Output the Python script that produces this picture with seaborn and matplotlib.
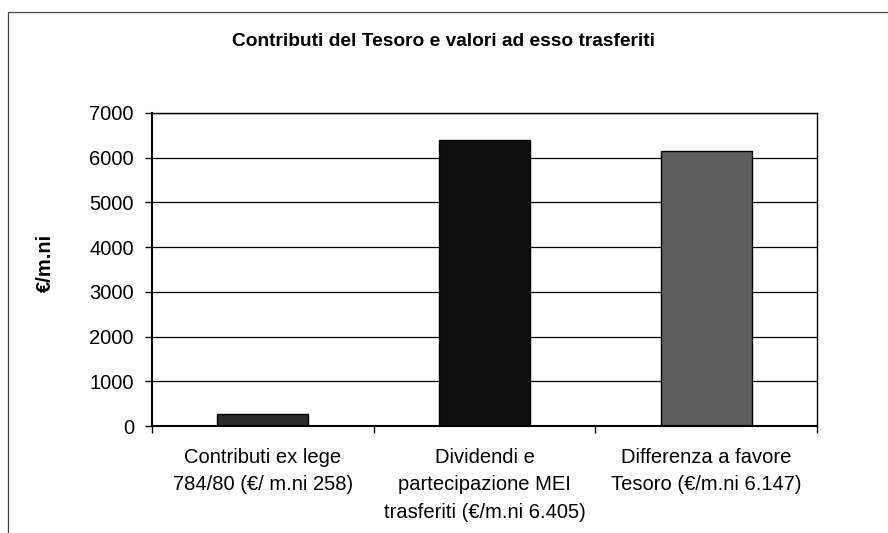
import matplotlib
matplotlib.use("Agg")
import matplotlib.pyplot as plt
import matplotlib.patches as mpatches
import seaborn as sns
import pandas as pd

# dati del grafico
categorie = [
    "Contributi ex lege\n784/80 (€/ m.ni 258)",
    "Dividendi e\npartecipazione MEI\ntrasferiti (€/m.ni 6.405)",
    "Differenza a favore\nTesoro (€/m.ni 6.147)",
]
valori = [258, 6405, 6147]
colori = ["#2b2b2b", "#0f0f0f", "#5e5e5e"]

df = pd.DataFrame({"categoria": categorie, "valore": valori})

sns.set_theme(style="white")
plt.rcParams["font.family"] = ["Liberation Sans", "DejaVu Sans"]
plt.rcParams["text.color"] = "black"
plt.rcParams["xtick.color"] = "black"
plt.rcParams["ytick.color"] = "black"
plt.rcParams["axes.labelcolor"] = "black"

fig = plt.figure(figsize=(8.88, 5.33), dpi=100)
# area del grafico: x 152-817, y 113-426 (pixel)
ax = fig.add_axes([152 / 888, 1 - 426 / 533, (817 - 152) / 888, (426 - 113) / 533])

sns.barplot(data=df, x="categoria", y="valore", hue="categoria",
            palette=colori, width=0.41, legend=False, ax=ax,
            edgecolor="black", linewidth=1.0, saturation=1)

ax.set_ylim(0, 7000)
ax.set_xlim(-0.5, 2.5)
ax.set_yticks(range(0, 7001, 1000))
ax.yaxis.grid(True, color="black", linewidth=0.9)
ax.set_axisbelow(True)

for s in ax.spines.values():
    s.set_visible(True)
    s.set_color("black")
    s.set_linewidth(1.0)
ax.spines["left"].set_linewidth(1.5)
ax.spines["bottom"].set_linewidth(1.5)

# tacche x ai confini delle categorie
ax.set_xticks([-0.5, 0.5, 1.5, 2.5], minor=False)
ax.set_xticklabels([])
ax.set_xticks([0, 1, 2], minor=True)
ax.set_xticklabels(categorie, minor=True, fontsize=14.5, linespacing=1.55)
ax.tick_params(axis="x", which="major", direction="out", length=5, width=1, color="black", bottom=True)
ax.tick_params(axis="x", which="minor", length=0, pad=16)
ax.tick_params(axis="y", direction="out", length=5, width=1, color="black", left=True,
               labelsize=14.5, pad=8)

ax.set_xlabel("")
ax.set_ylabel("€/m.ni", fontsize=14.5, fontweight="bold")
ax.yaxis.set_label_coords((55 - 152) / 665, 0.52)

fig.text(443 / 888, 1 - 41 / 533, "Contributi del Tesoro e valori ad esso trasferiti",
         ha="center", va="center", fontsize=13.8, fontweight="bold")

# cornice esterna del grafico
cornice = mpatches.Rectangle((8 / 888, -0.1), 1.2, 1 - 12 / 533 + 0.1,
                             transform=fig.transFigure, fill=False,
                             edgecolor="#444444", linewidth=0.9)
fig.patches.append(cornice)

fig.savefig("out.png", dpi=100, facecolor="white")
